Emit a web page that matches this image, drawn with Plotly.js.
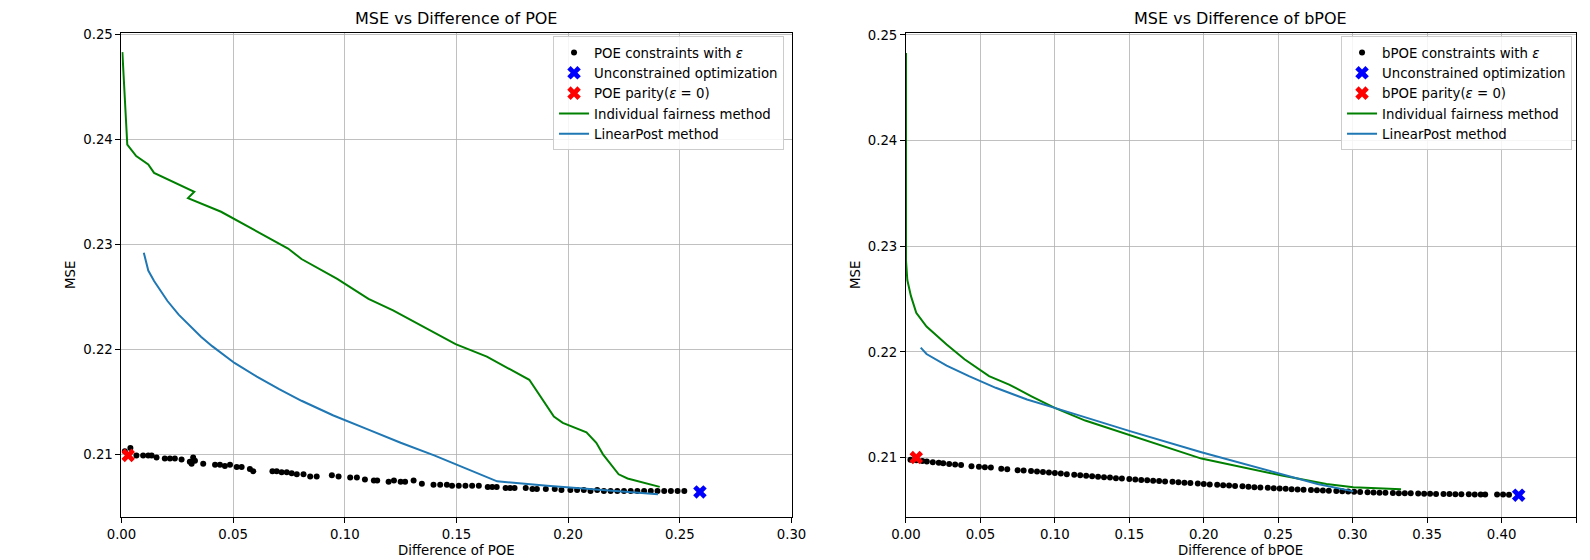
<!DOCTYPE html>
<html>
<head>
<meta charset="utf-8">
<script src="https://cdn.plot.ly/plotly-3.0.1.min.js"></script>
<style>html,body{margin:0;padding:0;background:#fff;}#chart{width:1590px;height:560px;}</style>
</head>
<body>
<div id="chart"></div>
<script>
// ---------- Left panel: POE ----------
const poeDotsX = [0.0015,0.004,0.0067,0.0097,0.0120,0.0135,0.0157,0.0194,0.0217,0.0239,0.0269,0.0306,0.0321,0.0329,0.0314,0.0366,0.0419,0.0441,0.0463,0.0486,0.0516,0.0538,0.0575,0.0590,0.0676,0.0695,0.0717,0.0740,0.0762,0.0785,0.0815,0.0845,0.0874,0.0942,0.0972,0.1024,0.1054,0.1090,0.1130,0.1145,0.1196,0.1220,0.1250,0.1270,0.1308,0.1345,0.1397,0.1427,0.1457,0.1480,0.1510,0.1540,0.1570,0.1600,0.1640,0.1660,0.1680,0.1720,0.1740,0.1760,0.1810,0.1840,0.1860,0.1900,0.1940,0.1970,0.2010,0.2040,0.2070,0.2100,0.2130,0.2160,0.2190,0.2220,0.2250,0.2280,0.2310,0.2340,0.2370,0.2400,0.2430,0.2460,0.2490,0.2520];
const poeDotsY = [0.2103,0.2106,0.2099,0.2099,0.2099,0.2099,0.2097,0.2096,0.2096,0.2096,0.2095,0.2093,0.2097,0.2094,0.2091,0.2091,0.2090,0.2090,0.2089,0.2090,0.2088,0.2088,0.2086,0.2084,0.2084,0.2084,0.2083,0.2083,0.2082,0.2081,0.2081,0.2079,0.2079,0.2080,0.2079,0.2078,0.2078,0.2076,0.2075,0.2075,0.2074,0.2075,0.2074,0.2074,0.2075,0.2072,0.2071,0.2071,0.2071,0.2070,0.2070,0.2070,0.2070,0.2070,0.2069,0.2069,0.2069,0.2068,0.2068,0.2068,0.2068,0.2067,0.2067,0.2067,0.2067,0.2066,0.2066,0.2066,0.2066,0.2065,0.2066,0.2065,0.2065,0.2065,0.2065,0.2065,0.2065,0.2065,0.2065,0.2065,0.2065,0.2065,0.2065,0.2065];
const poeUnconX = [0.259];
const poeUnconY = [0.20642];
const poeParityX = [0.003];
const poeParityY = [0.2099];
const poeIndivX = [0.0004,0.0026,0.0066,0.0120,0.0146,0.0326,0.0298,0.0446,0.0746,0.0806,0.0966,0.1106,0.1216,0.1496,0.1636,0.1826,0.1936,0.1976,0.2082,0.2126,0.2156,0.2226,0.2266,0.2410];
const poeIndivY = [0.2483,0.2395,0.2384,0.2376,0.2368,0.2350,0.2344,0.2331,0.2296,0.2286,0.2267,0.2248,0.2237,0.2205,0.2193,0.2171,0.2136,0.2130,0.2121,0.2111,0.2100,0.2081,0.2077,0.2069];
const poeLinX = [0.0100,0.0110,0.0120,0.0146,0.0176,0.0206,0.0256,0.0306,0.0356,0.0406,0.0456,0.0506,0.0606,0.0706,0.0806,0.0949,0.1100,0.1250,0.1400,0.1517,0.1682,0.1906,0.2106,0.2402];
const poeLinY = [0.2292,0.2283,0.2275,0.2265,0.2255,0.2246,0.2233,0.2222,0.2212,0.2203,0.2195,0.2187,0.2174,0.2162,0.2151,0.2137,0.2124,0.2111,0.2099,0.2089,0.20743,0.2070,0.2067,0.2062];

// ---------- Right panel: bPOE ----------
const bpoeDotsX = [0.003,0.007,0.011,0.014,0.018,0.022,0.025,0.029,0.033,0.037,0.044,0.049,0.053,0.057,0.064,0.068,0.075,0.079,0.084,0.088,0.092,0.096,0.100,0.104,0.108,0.113,0.117,0.121,0.125,0.129,0.133,0.137,0.141,0.145,0.150,0.154,0.158,0.162,0.166,0.170,0.174,0.179,0.183,0.187,0.191,0.196,0.200,0.204,0.209,0.213,0.217,0.221,0.226,0.230,0.234,0.238,0.243,0.247,0.251,0.255,0.259,0.263,0.267,0.272,0.276,0.280,0.284,0.289,0.293,0.297,0.301,0.305,0.310,0.314,0.318,0.322,0.327,0.331,0.335,0.339,0.344,0.348,0.352,0.356,0.361,0.365,0.369,0.373,0.378,0.382,0.386,0.389,0.397,0.401,0.405];
const bpoeDotsY = [0.20980,0.20975,0.20968,0.20962,0.20955,0.20950,0.20945,0.20940,0.20935,0.20930,0.20918,0.20912,0.20908,0.20905,0.20895,0.20890,0.20880,0.20877,0.20872,0.20868,0.20864,0.20858,0.20853,0.20848,0.20843,0.20838,0.20832,0.20828,0.20823,0.20818,0.20814,0.20810,0.20805,0.20801,0.20796,0.20792,0.20788,0.20784,0.20780,0.20777,0.20773,0.20770,0.20766,0.20762,0.20758,0.20754,0.20749,0.20745,0.20742,0.20738,0.20735,0.20731,0.20728,0.20724,0.20720,0.20717,0.20714,0.20710,0.20707,0.20704,0.20701,0.20698,0.20695,0.20692,0.20690,0.20687,0.20685,0.20683,0.20680,0.20678,0.20676,0.20674,0.20672,0.20670,0.20668,0.20666,0.20665,0.20663,0.20662,0.20661,0.20660,0.20658,0.20657,0.20656,0.20655,0.20654,0.20653,0.20652,0.20652,0.20651,0.20651,0.20650,0.20650,0.20650,0.20649];
const bpoeUnconX = [0.4115];
const bpoeUnconY = [0.20644];
const bpoeParityX = [0.0069];
const bpoeParityY = [0.2100];
const bpoeIndivX = [0.0000,0.0000,0.0009,0.0033,0.0069,0.0138,0.0273,0.0393,0.0558,0.0693,0.0843,0.0999,0.1204,0.1504,0.1984,0.2524,0.2824,0.3004,0.3325];
const bpoeIndivY = [0.2483,0.2287,0.2268,0.2253,0.2237,0.2224,0.2207,0.2193,0.2177,0.2169,0.2158,0.2147,0.2135,0.2121,0.2099,0.2083,0.2075,0.2072,0.2070];
const bpoeLinX = [0.0099,0.0138,0.0273,0.0423,0.0603,0.0813,0.0999,0.1204,0.1504,0.1984,0.2524,0.2764,0.3004];
const bpoeLinY = [0.2204,0.2198,0.2187,0.2177,0.2166,0.2155,0.2147,0.2138,0.2125,0.2105,0.2084,0.2075,0.2068];

const FONT = 'DejaVu Sans, sans-serif';
const FS = 13.3;

function panel(xa, ya, lg, dx, dy, ux, uy, px, py, ix, iy, lx, ly, name) {
  return [
    {type:'scatter', mode:'markers', x:dx, y:dy, xaxis:xa, yaxis:ya, legend:lg,
     name:name + ' constraints with <i>ε</i>', marker:{color:'black', size:6}},
    {type:'scatter', mode:'markers', x:ux, y:uy, xaxis:xa, yaxis:ya, legend:lg,
     name:'Unconstrained optimization', marker:{color:'blue', size:12, symbol:'x'}},
    {type:'scatter', mode:'markers', x:px, y:py, xaxis:xa, yaxis:ya, legend:lg,
     name:name + ' parity(<i>ε</i> = 0)', marker:{color:'red', size:12, symbol:'x'}},
    {type:'scatter', mode:'lines', x:ix, y:iy, xaxis:xa, yaxis:ya, legend:lg,
     name:'Individual fairness method', line:{color:'green', width:2}},
    {type:'scatter', mode:'lines', x:lx, y:ly, xaxis:xa, yaxis:ya, legend:lg,
     name:'LinearPost method', line:{color:'#1f77b4', width:2}}
  ];
}

const data = [].concat(
  panel('x','y','legend', poeDotsX, poeDotsY, poeUnconX, poeUnconY, poeParityX, poeParityY, poeIndivX, poeIndivY, poeLinX, poeLinY, 'POE'),
  panel('x2','y2','legend2', bpoeDotsX, bpoeDotsY, bpoeUnconX, bpoeUnconY, bpoeParityX, bpoeParityY, bpoeIndivX, bpoeIndivY, bpoeLinX, bpoeLinY, 'bPOE')
);

const axBase = {
  showline:true, linecolor:'black', linewidth:1, mirror:true,
  ticks:'outside', ticklen:5, tickcolor:'black', tickwidth:1,
  showgrid:true, gridcolor:'#b0b0b0', gridwidth:0.8, zeroline:false,
  tickfont:{family:FONT, size:FS, color:'black'}, automargin:false
};
const ydom = [0.0771, 0.9418];

const legBase = {
  bgcolor:'rgba(255,255,255,0.85)', bordercolor:'#cccccc', borderwidth:1,
  font:{family:FONT, size:FS, color:'black'}, xanchor:'right', yanchor:'top',
  xref:'paper', yref:'paper'
};

const layout = {
  width:1590, height:560,
  margin:{l:0, r:0, t:0, b:0},
  paper_bgcolor:'white', plot_bgcolor:'white',
  font:{family:FONT, size:FS, color:'black'},
  xaxis:Object.assign({}, axBase, {domain:[0.0764,0.4978], range:[0,0.30], dtick:0.05, tick0:0, tickformat:'.2f', anchor:'y'}),
  yaxis:Object.assign({}, axBase, {domain:ydom, range:[0.20405,0.25016], dtick:0.01, tick0:0, tickformat:'.2f', anchor:'x'}),
  xaxis2:Object.assign({}, axBase, {domain:[0.5698,0.9912], range:[0,0.45], dtick:0.05, tick0:0, tickformat:'.2f', anchor:'y2'}),
  yaxis2:Object.assign({}, axBase, {domain:ydom, range:[0.20439,0.25022], dtick:0.01, tick0:0, tickformat:'.2f', anchor:'x2'}),
  legend:Object.assign({}, legBase, {x:0.4931, y:0.9350}),
  legend2:Object.assign({}, legBase, {x:0.9887, y:0.9350}),
  annotations:[
    {text:'MSE vs Difference of POE', xref:'paper', yref:'paper', x:0.2871, y:0.9673, showarrow:false, xanchor:'center', yanchor:'middle', font:{family:FONT, size:16, color:'black'}},
    {text:'MSE vs Difference of bPOE', xref:'paper', yref:'paper', x:0.7805, y:0.9673, showarrow:false, xanchor:'center', yanchor:'middle', font:{family:FONT, size:16, color:'black'}},
    {text:'Difference of POE', xref:'paper', yref:'paper', x:0.2871, y:0.0164, showarrow:false, xanchor:'center', yanchor:'middle', font:{family:FONT, size:FS, color:'black'}},
    {text:'Difference of bPOE', xref:'paper', yref:'paper', x:0.7805, y:0.0164, showarrow:false, xanchor:'center', yanchor:'middle', font:{family:FONT, size:FS, color:'black'}},
    {text:'MSE', xref:'paper', yref:'paper', x:0.0447, y:0.509, showarrow:false, textangle:-90, xanchor:'center', yanchor:'middle', font:{family:FONT, size:FS, color:'black'}},
    {text:'MSE', xref:'paper', yref:'paper', x:0.5384, y:0.509, showarrow:false, textangle:-90, xanchor:'center', yanchor:'middle', font:{family:FONT, size:FS, color:'black'}}
  ]
};

Plotly.newPlot('chart', data, layout, {displayModeBar:false, staticPlot:true});
</script>
</body>
</html>
